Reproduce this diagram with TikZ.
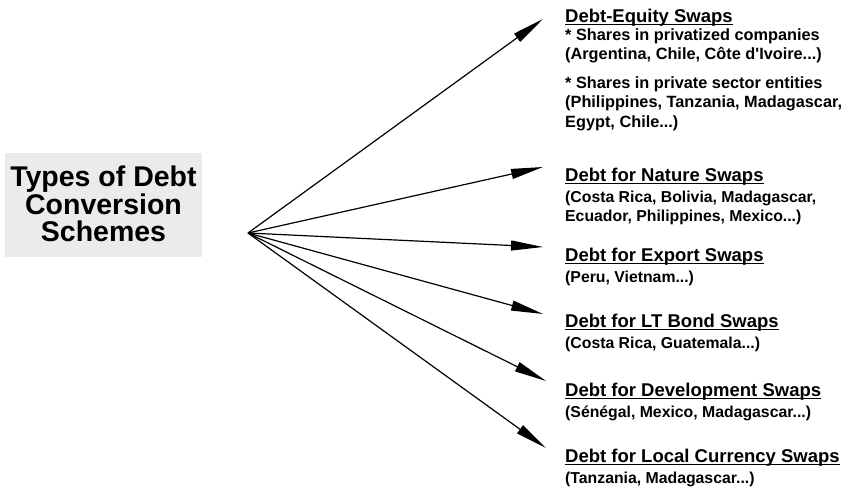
\documentclass[tikz,border=0pt]{standalone}
\usepackage{fontspec}
\setmainfont{Liberation Sans}
\usetikzlibrary{arrows.meta}

\newcommand\hdul[1]{\setbox0=\hbox{#1}\rlap{\rule[-3pt]{\wd0}{1.3pt}}\box0}

\begin{document}
\begin{tikzpicture}[x=1pt,y=-1pt]
  \tikzstyle{head}=[anchor=base west, inner sep=0pt, font=\bfseries\fontsize{18.5}{21}\selectfont]
  \tikzstyle{sub}=[anchor=north west, inner sep=0pt, align=left, font=\bfseries\fontsize{15.8}{19}\selectfont]
  \tikzstyle{arr}=[-{Triangle[length=32pt,width=10pt]}, line width=1.2pt]

  \useasboundingbox (0,0) rectangle (844,488);

  \node[fill=black!8, minimum width=197pt, minimum height=102pt, align=center,
        font=\bfseries\fontsize{28.5}{27.5}\selectfont] (title) at (103.5,204)
        {Types of Debt\\Conversion\\Schemes};
  \path[fill=black!8] (title.south west) rectangle ([yshift=-2pt]title.south east);

  \coordinate (src) at (248,233);

  \node[head] (equity) at (565,22) {\hdul{Debt-Equity Swaps}};
  \node[sub, font=\bfseries\fontsize{16.3}{19.5}\selectfont] (equitys) at (565,28)
    {* Shares in privatized companies\\
    (Argentina, Chile, Côte d\textquotesingle Ivoire...)\\[9pt]
    * Shares in private sector entities\\
    (Philippines, Tanzania, Madagascar,\\
    Egypt, Chile...)};

  \node[head] (nature) at (565,181) {\hdul{Debt for Nature Swaps}};
  \node[sub] (natures) at (565,191) {(Costa Rica, Bolivia, Madagascar,\\
    Ecuador, Philippines, Mexico...)};

  \node[head] (export) at (565,261) {\hdul{Debt for Export Swaps}};
  \node[sub] (exports) at (565,271) {(Peru, Vietnam...)};

  \node[head] (bond) at (565,327) {\hdul{Debt for LT Bond Swaps}};
  \node[sub] (bonds) at (565,337) {(Costa Rica, Guatemala...)};

  \node[head] (devel) at (565,396) {\hdul{Debt for Development Swaps}};
  \node[sub] (devels) at (565,406) {(Sénégal, Mexico, Madagascar...)};

  \node[head] (local) at (565,462) {\hdul{Debt for Local Currency Swaps}};
  \node[sub] (locals) at (565,472) {(Tanzania, Madagascar...)};

  \coordinate (t1) at (543,19);
  \coordinate (t2) at (543,167);
  \coordinate (t3) at (543,247);
  \coordinate (t4) at (543,314);
  \coordinate (t5) at (546,381);
  \coordinate (t6) at (546,448);

  \foreach \t in {t1,t2,t3,t4,t5,t6}
    \draw[arr] (src) -- (\t);
\end{tikzpicture}
\end{document}
